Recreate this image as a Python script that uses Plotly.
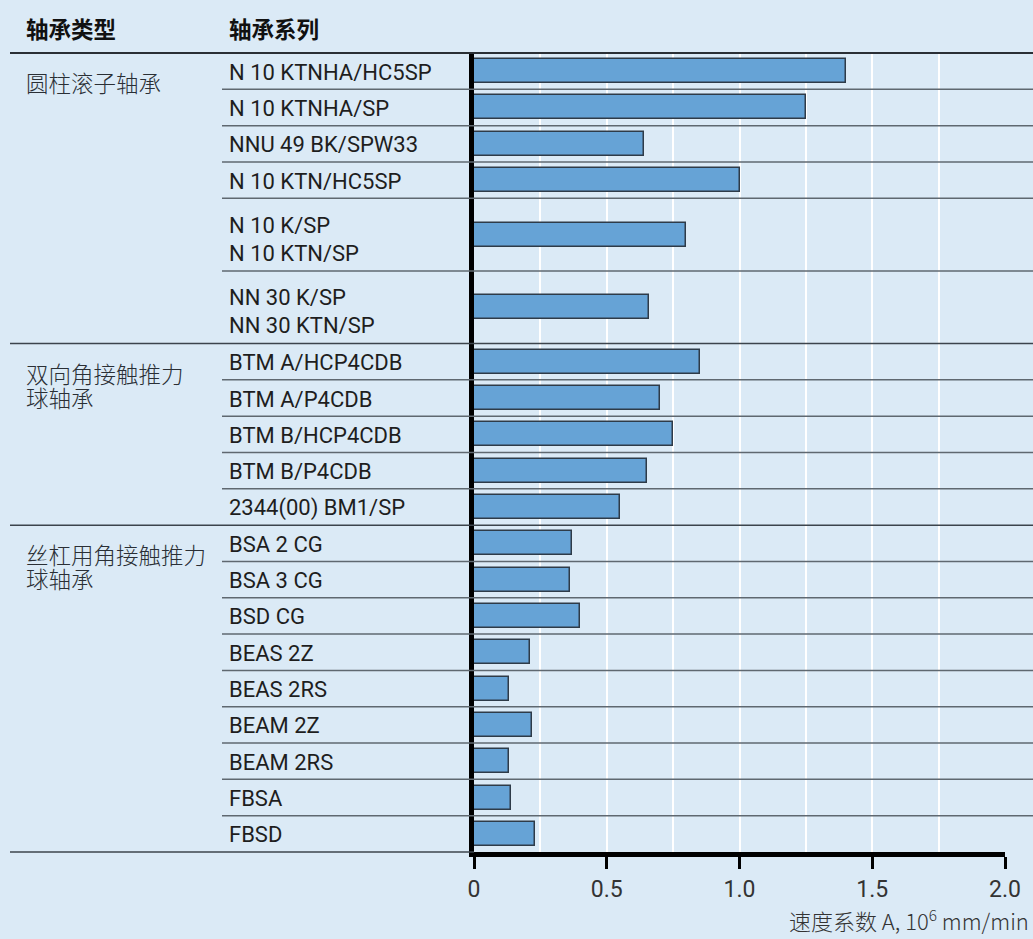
import plotly.graph_objects as go

# ---------------- data ----------------
header_type = "轴承类型"
header_series = "轴承系列"
bearing_types = [["圆柱滚子轴承"], ["双向角接触推力", "球轴承"], ["丝杠用角接触推力", "球轴承"]]
type_counts = [6, 5, 9]
series = [
    ["N 10 KTNHA/HC5SP"], ["N 10 KTNHA/SP"], ["NNU 49 BK/SPW33"], ["N 10 KTN/HC5SP"],
    ["N 10 K/SP", "N 10 KTN/SP"], ["NN 30 K/SP", "NN 30 KTN/SP"],
    ["BTM A/HCP4CDB"], ["BTM A/P4CDB"], ["BTM B/HCP4CDB"], ["BTM B/P4CDB"], ["2344(00) BM1/SP"],
    ["BSA 2 CG"], ["BSA 3 CG"], ["BSD CG"], ["BEAS 2Z"], ["BEAS 2RS"],
    ["BEAM 2Z"], ["BEAM 2RS"], ["FBSA"], ["FBSD"],
]
speed_factor = [1.40, 1.25, 0.64, 1.00, 0.80, 0.66, 0.85, 0.70, 0.75, 0.65, 0.55,
                0.37, 0.36, 0.40, 0.21, 0.13, 0.22, 0.13, 0.14, 0.23]
tick_vals = [0, 0.5, 1.0, 1.5, 2.0]
tick_text = ["0", "0.5", "1.0", "1.5", "2.0"]
x_title = "速度系数 A, 10<sup>6</sup> mm/min"

# ---------------- layout geometry ----------------
W, H = 1033, 939
L, R, T, B = 474, 1005, 53, 852
PW, PH = R - L, B - T

def px_x(p):
    return (p - L) / PW

def px_y(p):
    return (B - p) / PH

BG = "#dbeaf6"
BAR = "#66a3d6"
TXT = "#1e1e1e"
LINE = "#5f6870"

units = [len(s) for s in series]
starts = []
acc = 0
for u in units:
    starts.append(acc)
    acc += u
total_units = acc
unit_px = PH / total_units
centers = [s + u / 2 for s, u in zip(starts, units)]

fig = go.Figure()
fig.add_trace(go.Bar(
    x=speed_factor, y=centers, orientation="h", width=0.66,
    marker=dict(color=BAR, line=dict(color="#2e3b48", width=1.5)),
    hoverinfo="x", showlegend=False,
))

shapes = []
annotations = []

grp_bounds = []
acc = 0
for c in type_counts:
    grp_bounds.append(acc)
    acc += c
for i, s in enumerate(starts):
    if i == 0:
        continue
    full = i in grp_bounds
    shapes.append(dict(type="line", xref="paper", yref="y",
                       x0=px_x(10 if full else 222), x1=px_x(W), y0=s, y1=s,
                       line=dict(color="#3c444c" if full else LINE, width=1.5), layer="above"))
shapes.append(dict(type="line", xref="paper", yref="paper", x0=px_x(10), x1=px_x(W),
                   y0=1, y1=1, line=dict(color="#2a2f35", width=2)))
shapes.append(dict(type="line", xref="paper", yref="paper", x0=px_x(10), x1=0,
                   y0=0, y1=0, line=dict(color="#3c444c", width=1.5)))

# series labels
for s, u, lines in zip(starts, units, series):
    top = T + s * unit_px
    if len(lines) == 1:
        ys = [top + u * unit_px / 2 + 1]
    else:
        ys = [top + 27 + 28 * k for k in range(len(lines))]
    for txt, yp in zip(lines, ys):
        annotations.append(dict(text=txt, xref="paper", yref="paper", x=px_x(227), y=px_y(yp),
                                xanchor="left", yanchor="middle", showarrow=False,
                                font=dict(family="Roboto", size=22, color=TXT)))

# group labels
for gi, lines in enumerate(bearing_types):
    gtop = T + starts[grp_bounds[gi]] * unit_px
    for k, txt in enumerate(lines):
        annotations.append(dict(text=txt, xref="paper", yref="paper", x=px_x(24), y=px_y(gtop + 29 + 24 * k),
                                xanchor="left", yanchor="middle", showarrow=False,
                                font=dict(family="Noto Sans CJK SC", size=22.5, color="#2a2f35", weight=300)))

# headers
for txt, xp in [(header_type, 24), (header_series, 227)]:
    annotations.append(dict(text=txt, xref="paper", yref="paper", x=px_x(xp), y=px_y(28),
                            xanchor="left", yanchor="middle", showarrow=False,
                            font=dict(family="Noto Sans CJK SC", size=22.5, color="#111", weight=700)))

# axis title
annotations.append(dict(text=x_title, xref="paper", yref="paper", x=px_x(1031), y=px_y(920),
                        xanchor="right", yanchor="middle", showarrow=False,
                        font=dict(family="Noto Sans CJK SC", size=22, color="#333", weight=300)))

fig.update_layout(
    width=W, height=H,
    margin=dict(l=L, r=W - R, t=T, b=H - B),
    paper_bgcolor=BG, plot_bgcolor=BG,
    shapes=shapes, annotations=annotations,
    bargap=0,
    xaxis=dict(range=[0, 2], tickvals=tick_vals, ticktext=tick_text,
               showgrid=True, gridcolor="white", gridwidth=1.5,
               minor=dict(dtick=0.25, tick0=0, showgrid=True, gridcolor="white", gridwidth=1.5),
               showline=True, linecolor="black", linewidth=5,
               ticks="outside", ticklen=12, tickwidth=3, tickcolor="black",
               tickfont=dict(family="Roboto", size=23, color="#333"),
               zeroline=False, fixedrange=True),
    yaxis=dict(range=[total_units, 0], showticklabels=False, showgrid=False,
               showline=True, linecolor="black", linewidth=4.5, zeroline=False,
               ticks="", fixedrange=True),
)

fig.write_html("out.html", config={"displayModeBar": False},
               post_script="document.body.style.margin='0';document.body.style.background='#dbeaf6';")
